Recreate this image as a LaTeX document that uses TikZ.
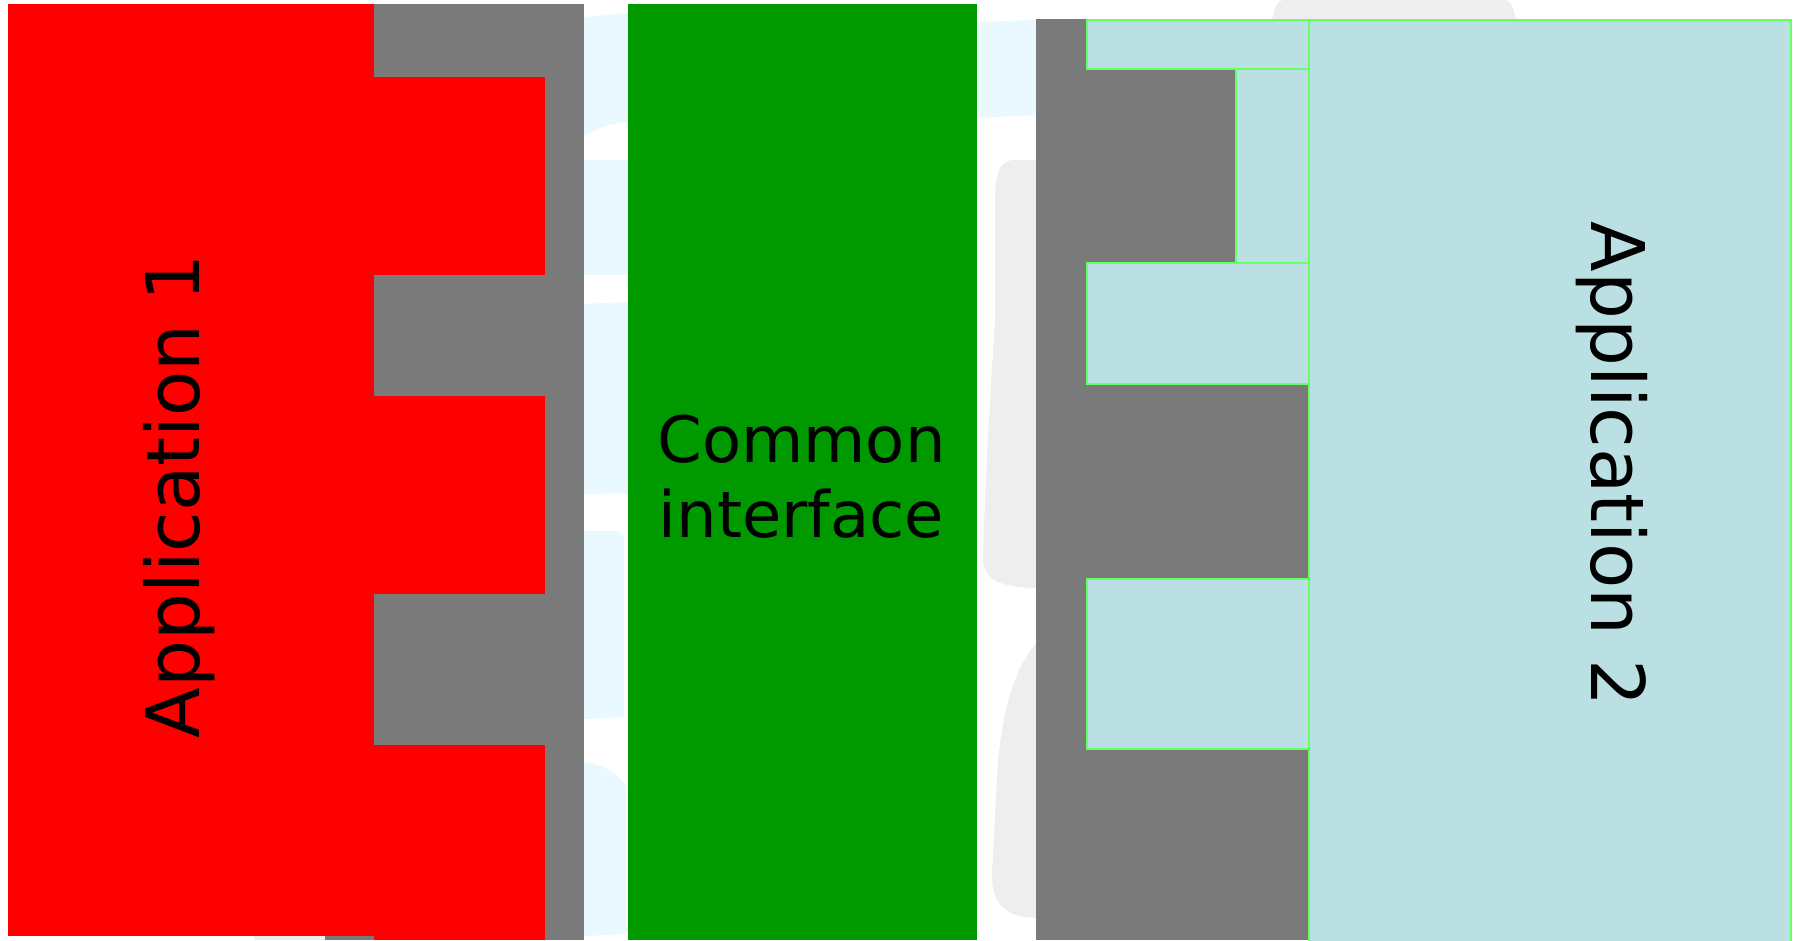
\documentclass[tikz,border=0pt]{standalone}
\usepackage{fontspec}
\setmainfont{DejaVu Sans}
\definecolor{appred}{RGB}{255,0,0}
\definecolor{plug}{RGB}{122,122,122}
\definecolor{ifgreen}{RGB}{0,153,0}
\definecolor{appblue}{RGB}{187,224,227}
\definecolor{edgegreen}{RGB}{102,255,102}
\definecolor{faintcyan}{RGB}{233,249,255}
\definecolor{faintgray}{RGB}{238,238,238}
\begin{document}
\begin{tikzpicture}[x=1pt,y=-1pt,
  applabel/.style={inner sep=0pt, font=\fontsize{74}{86}\selectfont},
  iflabel/.style={inner sep=0pt, align=center, font=\fontsize{64}{75}\selectfont},
  bluepart/.style={fill=appblue, draw=edgegreen, line width=2pt},
  redpart/.style={fill=appred},
  plugpart/.style={fill=plug}]
\useasboundingbox (0,0) rectangle (1798,940);
\fill[white] (0,0) rectangle (1798,940);

% faint background shapes
\fill[faintcyan] (584,17) -- (628,13) -- (628,122) .. controls (610,124) and (595,128) .. (584,137) -- cycle;
\fill[faintcyan] (584,160) rectangle (628,275);
\fill[faintcyan] (584,304) -- (628,302) -- (628,493) -- (584,494) -- cycle;
\fill[faintcyan] (584,531) -- (618,531) -- (624,536) -- (624,717) -- (584,719) -- cycle;
\fill[faintcyan] (584,762) .. controls (605,765) and (620,775) .. (626,787) -- (626,934) -- (584,936) -- cycle;
\fill[faintcyan] (978,22) -- (1036,20) -- (1036,115) -- (978,118) -- cycle;
\fill[faintgray] (1036,160) -- (1012,160) .. controls (999,162) and (995,175) .. (995,200)
  -- (995,320) .. controls (990,400) and (985,480) .. (983,560)
  .. controls (985,580) and (1000,587) .. (1036,588) -- cycle;
\fill[faintgray] (1036,643) .. controls (1015,670) and (1005,700) .. (998,760)
  -- (992,873) .. controls (992,905) and (1005,917) .. (1036,918) -- cycle;
\fill[faintgray] (1272,20) -- (1275,8) .. controls (1279,0) .. (1290,0) -- (1498,0)
  .. controls (1509,0) .. (1513,8) -- (1516,20) -- cycle;
\fill[faintgray] (254,936) rectangle (325,940);

% application 1
\fill[plugpart] (325,4) rectangle (584,940);
\fill[redpart] (8,4) rectangle (374,936);
\fill[redpart] (374,77) rectangle (545,275);
\fill[redpart] (374,396) rectangle (545,594);
\fill[redpart] (374,745) rectangle (545,940);
\node[applabel, rotate=90, anchor=base] (app1) at (199,496) {Application 1};

% common interface
\fill[ifgreen] (628,4) rectangle (977,940);
\node[iflabel, anchor=base] (iface) at (801.5,537) {Common\\interface};

% application 2
\fill[plugpart] (1036,19) rectangle (1309,940);
\draw[bluepart] (1309,20) rectangle (1791,942);
\draw[bluepart] (1087,20) rectangle (1309,69);
\draw[bluepart] (1236,69) rectangle (1309,263);
\draw[bluepart] (1087,263) rectangle (1309,384);
\draw[bluepart] (1087,579) rectangle (1309,749);
\node[applabel, rotate=-90, anchor=base] (app2) at (1591,464) {Application 2};
\end{tikzpicture}
\end{document}
